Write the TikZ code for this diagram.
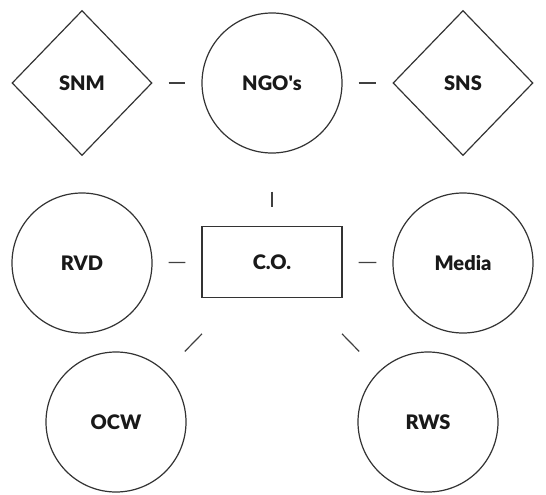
\documentclass[tikz,border=0pt]{standalone}
\usepackage{fontspec}
\setmainfont{Lato}[BoldFont={Lato Black}]
\usetikzlibrary{shapes.geometric}
\begin{document}
\begin{tikzpicture}[x=1pt,y=-1pt,
  every node/.style={font=\fontsize{20}{23}\selectfont\bfseries, text=black!90, draw=black!80, line width=1.2pt, inner sep=0pt},
  circ/.style={circle, minimum size=140pt},
  diam/.style={diamond, minimum width=140pt, minimum height=145pt},
  rectbox/.style={rectangle, minimum width=140pt, minimum height=71pt},
  link/.style={draw=black!75, line width=1.2pt}]
\useasboundingbox (0,0) rectangle (546,495);
\node[diam] (snm) at (82,83) {SNM};
\node[circ] (ngo) at (272,83) {NGO\textquotesingle s};
\node[diam] (sns) at (463,83) {SNS};
\node[circ] (rvd) at (82,263) {RVD};
\node[rectbox] (co) at (272,262) {C.O.};
\node[circ] (media) at (463,263) {Media};
\node[circ] (ocw) at (116,422) {OCW};
\node[circ] (rws) at (428,422) {RWS};
\draw[link, shorten <=16pt, shorten >=16pt] (snm) -- (ngo);
\draw[link, shorten <=16pt, shorten >=16pt] (ngo) -- (sns);
\draw[link, shorten <=16pt, shorten >=16pt] (rvd) -- (co);
\draw[link, shorten <=16pt, shorten >=16pt] (co) -- (media);
\draw[link, shorten <=38pt, shorten >=19pt] (ngo) -- (co);
\draw[link, shorten <=50pt, shorten >=28pt] (co) -- (ocw);
\draw[link, shorten <=50pt, shorten >=28pt] (co) -- (rws);
\end{tikzpicture}
\end{document}
